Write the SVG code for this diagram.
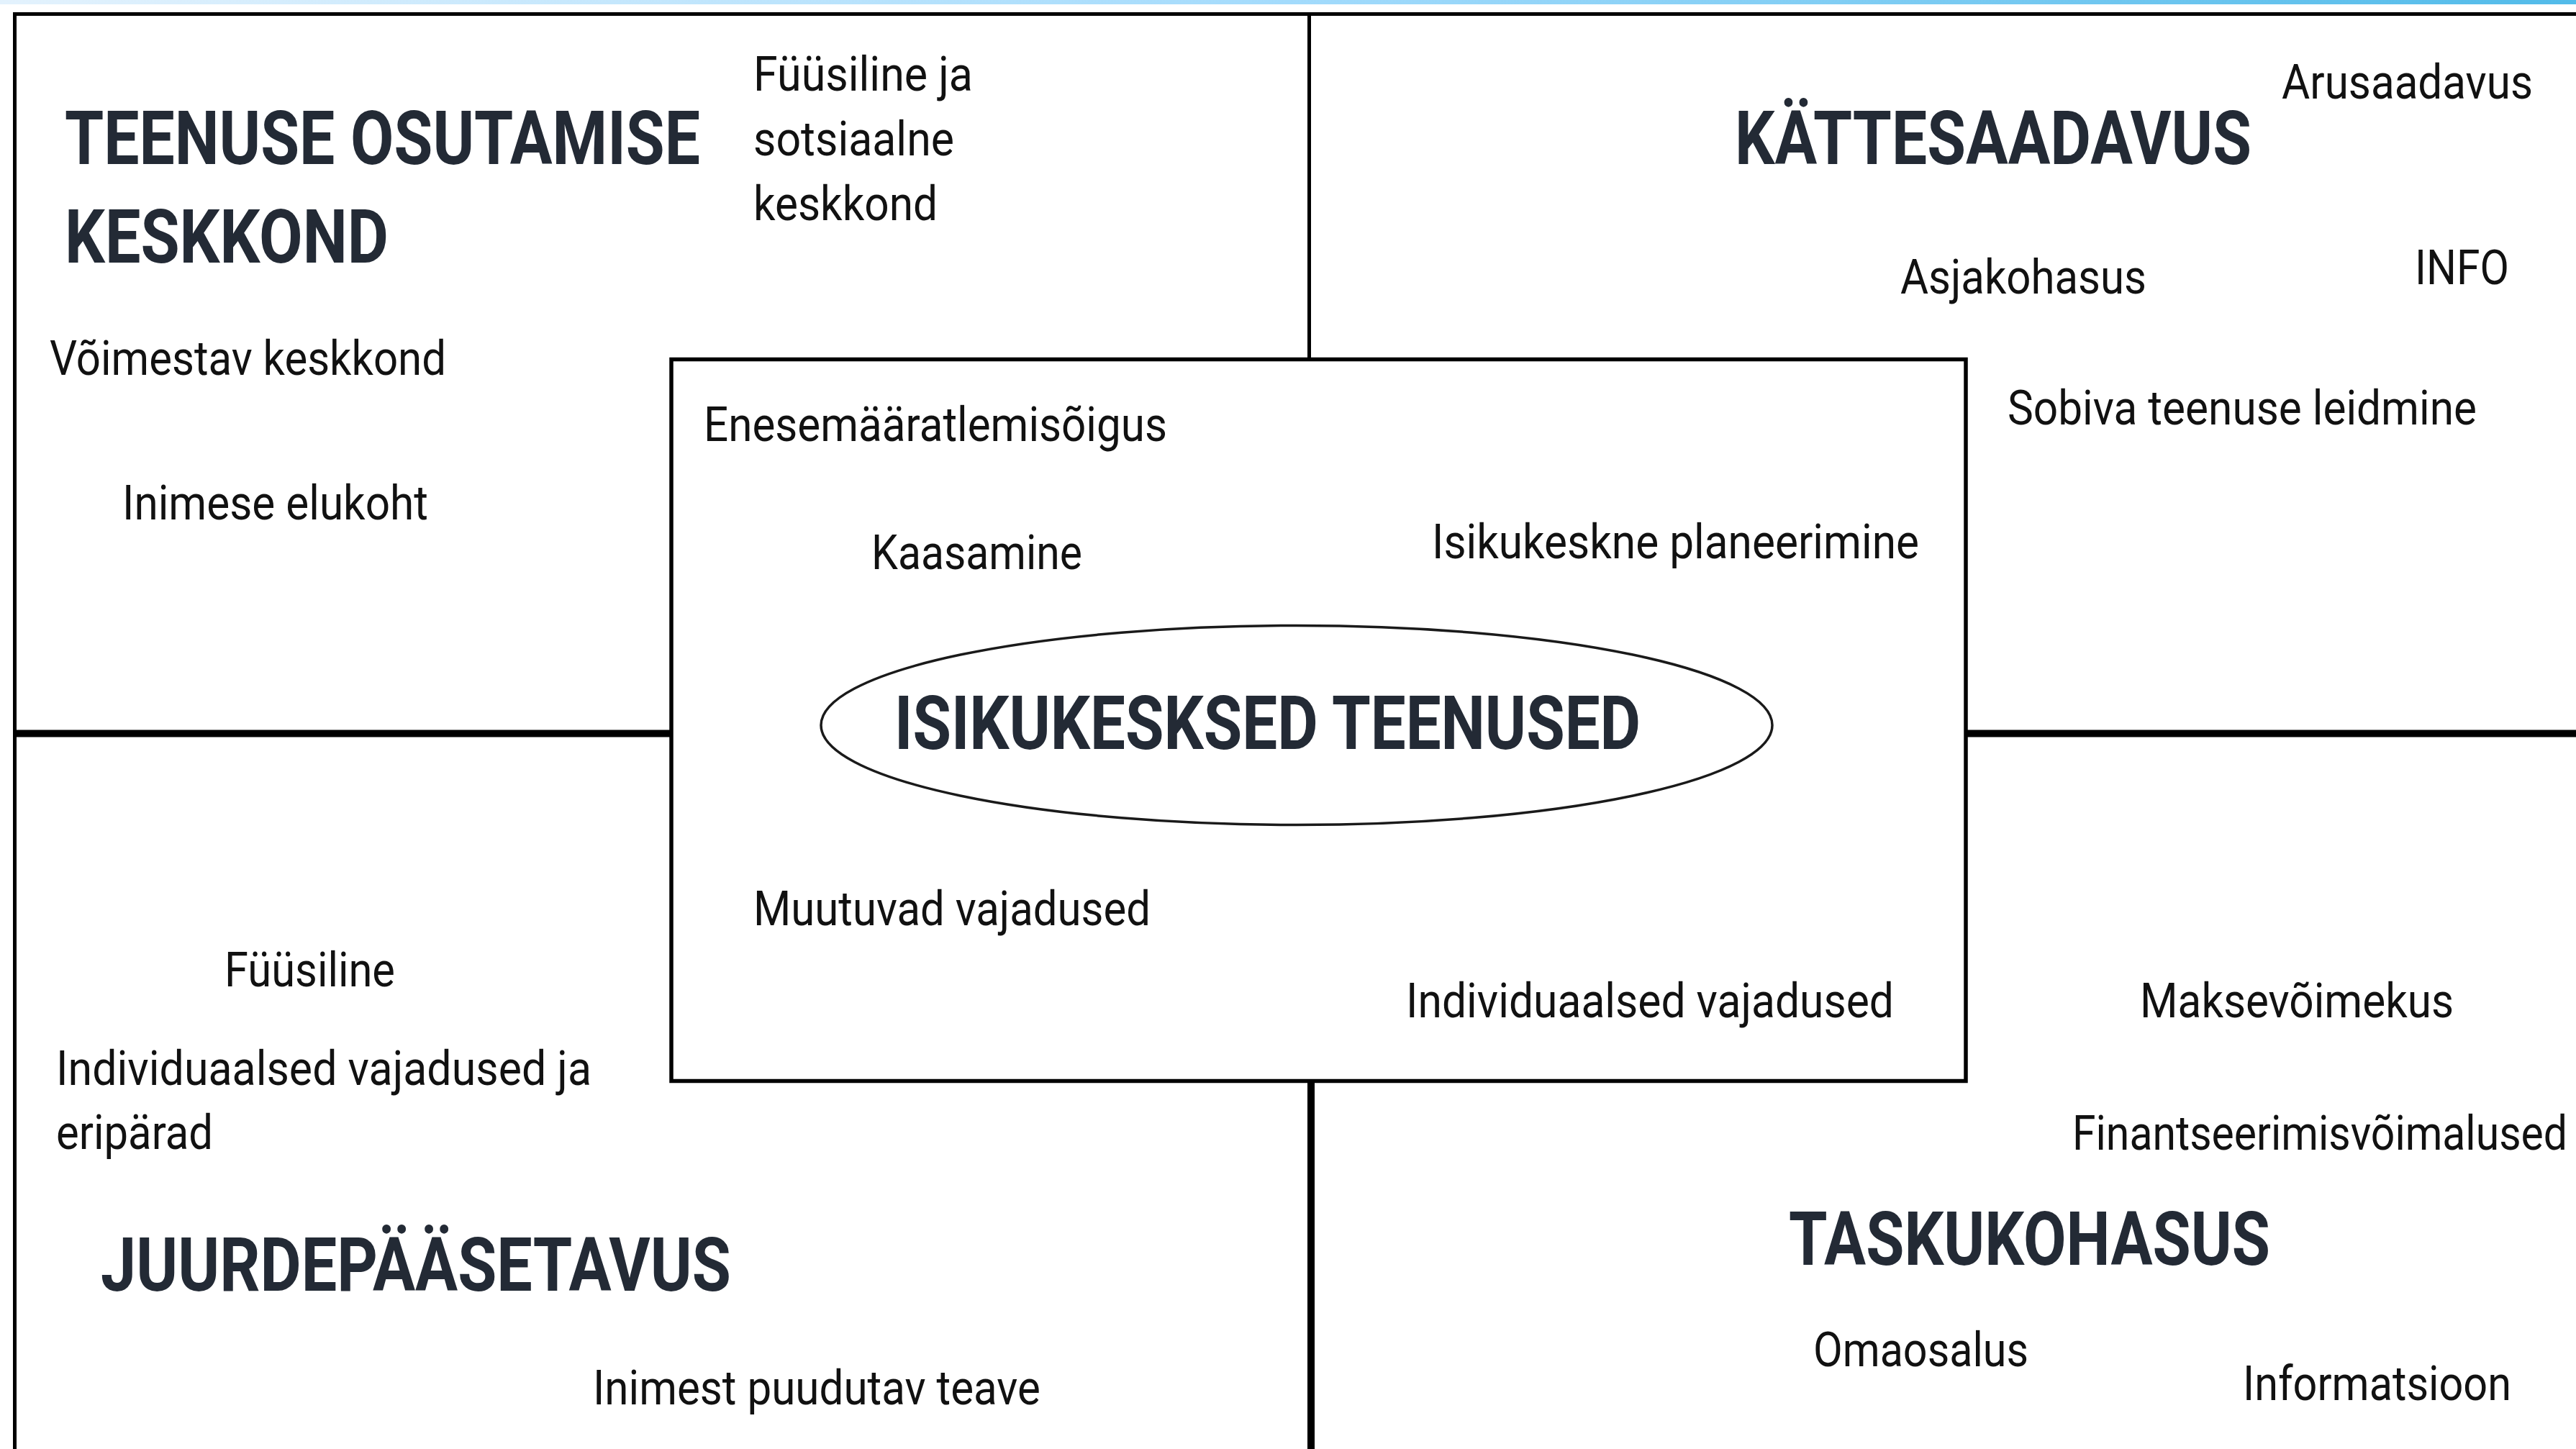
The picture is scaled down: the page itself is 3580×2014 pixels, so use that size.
<svg xmlns="http://www.w3.org/2000/svg" width="3580" height="2014" viewBox="0 0 3580 2014">
<defs>
<linearGradient id="band" x1="0" y1="0" x2="1" y2="0">
<stop offset="0" stop-color="#e3f2fd"/>
<stop offset="0.5" stop-color="#a3dbfc"/>
<stop offset="1" stop-color="#52bbe9"/>
</linearGradient>
<style>
.ttl{font-family:Roboto,"Liberation Sans",sans-serif;font-weight:700;font-size:104px;fill:#232a35;}
.lbl{font-family:Roboto,"Liberation Sans",sans-serif;font-weight:400;font-size:66px;fill:#111;}
.ln{stroke:#000;fill:none;}
</style>
</defs>
<rect x="0" y="0" width="3580" height="2014" fill="#fff"/>
<rect x="0" y="0" width="3580" height="6" fill="url(#band)"/>
<g id="connectors">
<line class="ln" x1="18" y1="19.5" x2="3580" y2="19.5" stroke-width="5"/>
<line class="ln" x1="20.5" y1="17" x2="20.5" y2="2014" stroke-width="5"/>
<line class="ln" x1="1819.5" y1="17" x2="1819.5" y2="499" stroke-width="5"/>
<line class="ln" x1="1822" y1="1502" x2="1822" y2="2014" stroke-width="10"/>
<line class="ln" x1="18" y1="1019.5" x2="933" y2="1019.5" stroke-width="10"/>
<line class="ln" x1="2732" y1="1019.5" x2="3580" y2="1019.5" stroke-width="10"/>
</g>
<g id="center-box">
<rect x="933" y="499.5" width="1799" height="1003" fill="none" stroke="#000" stroke-width="5.5"/>
<text class="lbl" x="978" y="613" textLength="644" lengthAdjust="spacingAndGlyphs">Enesemääratlemisõigus</text>
<text class="lbl" x="1211" y="791" textLength="293" lengthAdjust="spacingAndGlyphs">Kaasamine</text>
<text class="lbl" x="1990" y="776" textLength="677" lengthAdjust="spacingAndGlyphs">Isikukeskne planeerimine</text>
<text class="lbl" x="1047" y="1286" textLength="552" lengthAdjust="spacingAndGlyphs">Muutuvad vajadused</text>
<text class="lbl" x="1954" y="1414" textLength="678" lengthAdjust="spacingAndGlyphs">Individuaalsed vajadused</text>
</g>
<g id="isikukesksed-teenused">
<ellipse cx="1802" cy="1008" rx="661" ry="138.5" fill="none" stroke="#1a1a1a" stroke-width="3.5"/>
<text class="ttl" x="1243" y="1041" textLength="1037" lengthAdjust="spacingAndGlyphs">ISIKUKESKSED TEENUSED</text>
</g>
<g id="teenuse-osutamise-keskkond">
<text class="ttl" x="90" y="228" textLength="883" lengthAdjust="spacingAndGlyphs">TEENUSE OSUTAMISE</text>
<text class="ttl" x="90" y="365" textLength="450" lengthAdjust="spacingAndGlyphs">KESKKOND</text>
<text class="lbl" x="1047" y="126" textLength="305" lengthAdjust="spacingAndGlyphs">Füüsiline ja</text>
<text class="lbl" x="1047" y="216" textLength="279" lengthAdjust="spacingAndGlyphs">sotsiaalne</text>
<text class="lbl" x="1047" y="306" textLength="256" lengthAdjust="spacingAndGlyphs">keskkond</text>
<text class="lbl" x="69" y="521" textLength="551" lengthAdjust="spacingAndGlyphs">Võimestav keskkond</text>
<text class="lbl" x="170" y="722" textLength="425" lengthAdjust="spacingAndGlyphs">Inimese elukoht</text>
</g>
<g id="kattesaadavus">
<text class="ttl" x="2411" y="228" textLength="718" lengthAdjust="spacingAndGlyphs">KÄTTESAADAVUS</text>
<text class="lbl" x="3171" y="137" textLength="349" lengthAdjust="spacingAndGlyphs">Arusaadavus</text>
<text class="lbl" x="2641" y="408" textLength="342" lengthAdjust="spacingAndGlyphs">Asjakohasus</text>
<text class="lbl" x="3356" y="395" textLength="131" lengthAdjust="spacingAndGlyphs">INFO</text>
<text class="lbl" x="2790" y="590" textLength="652" lengthAdjust="spacingAndGlyphs">Sobiva teenuse leidmine</text>
</g>
<g id="juurdepaasetavus">
<text class="ttl" x="140" y="1794" textLength="876" lengthAdjust="spacingAndGlyphs">JUURDEPÄÄSETAVUS</text>
<text class="lbl" x="312" y="1371" textLength="237" lengthAdjust="spacingAndGlyphs">Füüsiline</text>
<text class="lbl" x="78" y="1508" textLength="744" lengthAdjust="spacingAndGlyphs">Individuaalsed vajadused ja</text>
<text class="lbl" x="78" y="1597" textLength="218" lengthAdjust="spacingAndGlyphs">eripärad</text>
<text class="lbl" x="824" y="1952" textLength="622" lengthAdjust="spacingAndGlyphs">Inimest puudutav teave</text>
</g>
<g id="taskukohasus">
<text class="ttl" x="2486" y="1758" textLength="669" lengthAdjust="spacingAndGlyphs">TASKUKOHASUS</text>
<text class="lbl" x="2974" y="1414" textLength="436" lengthAdjust="spacingAndGlyphs">Maksevõimekus</text>
<text class="lbl" x="2880" y="1598" textLength="688" lengthAdjust="spacingAndGlyphs">Finantseerimisvõimalused</text>
<text class="lbl" x="2520" y="1899" textLength="299" lengthAdjust="spacingAndGlyphs">Omaosalus</text>
<text class="lbl" x="3117" y="1946" textLength="373" lengthAdjust="spacingAndGlyphs">Informatsioon</text>
</g>
</svg>
